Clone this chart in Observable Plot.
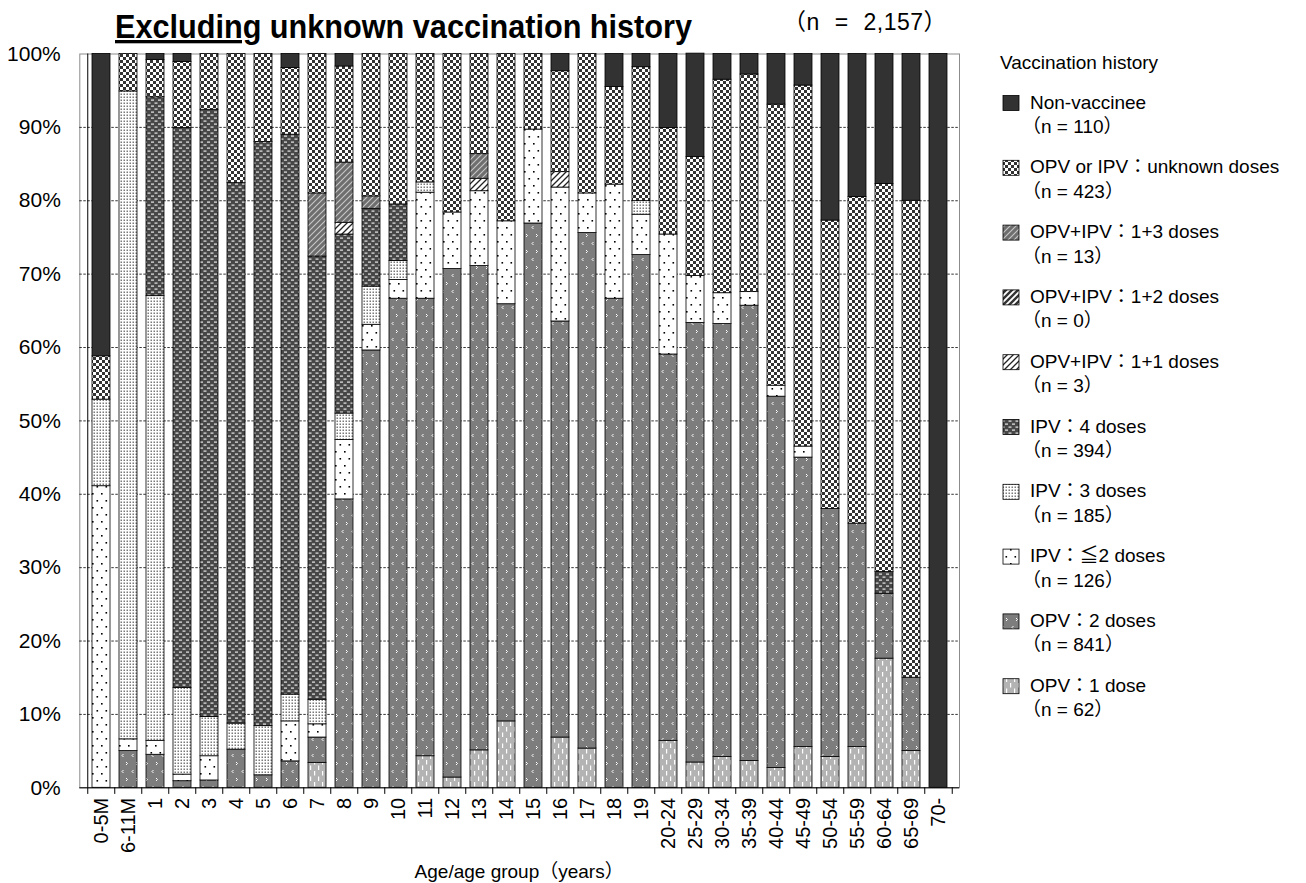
<!DOCTYPE html>
<html><head><meta charset="utf-8">
<script src="https://cdn.jsdelivr.net/npm/d3@7"></script>
<script src="https://cdn.jsdelivr.net/npm/@observablehq/plot@0.6"></script>
<style>body{margin:0;background:#fff;}</style>
</head><body><div id="chart"></div>
<script>
// ---- data (percent of each age group) ----
const categories = ["0-5M","6-11M","1","2","3","4","5","6","7","8","9","10","11","12","13","14","15","16","17","18","19","20-24","25-29","30-34","35-39","40-44","45-49","50-54","55-59","60-64","65-69","70-"];
const opv1   = [0,0,0,0,0,0,0,0,3.4,0,0,0,4.3,1.4,5.1,9.05,0,6.85,5.35,0,0,6.4,3.45,4.2,3.65,2.7,5.55,4.2,5.55,17.6,5.0,0];
const opv2   = [0,5.0,4.5,0.9,1.0,5.2,1.7,3.6,3.45,39.3,59.6,66.65,62.35,69.3,66.0,56.85,76.9,56.7,70.25,66.65,72.6,52.65,59.9,59.0,62.05,50.6,39.45,33.8,30.45,8.85,10.0,0];
const ipvLe2 = [41.1,1.6,1.9,0.9,3.3,0,0,5.45,1.8,8.1,3.5,2.55,14.45,7.7,10.2,11.3,12.8,18.25,5.4,15.55,5.5,16.35,6.4,4.2,1.85,1.5,1.5,0,0,0,0,0];
const ipv3   = [11.8,88.3,60.6,11.8,5.35,3.55,6.7,3.65,3.35,3.6,5.2,2.6,1.4,0,0,0,0,0,0,0,1.85,0,0,0,0,0,0,0,0,0,0,0];
const ipv4   = [0,0,27.1,76.3,82.75,73.65,79.6,76.3,60.4,24.4,10.6,7.7,0,0,0,0,0,0,0,0,0,0,0,0,0,0,0,0,0,2.95,0,0];
const mix11  = [0,0,0,0,0,0,0,0,0,1.6,0,0,0,0,1.7,0,0,2.1,0,0,0,0,0,0,0,0,0,0,0,0,0,0];
const mix12  = [0,0,0,0,0,0,0,0,0,0,0,0,0,0,0,0,0,0,0,0,0,0,0,0,0,0,0,0,0,0,0,0];
const mix13  = [0,0,0,0,0,0,0,0,8.6,8.2,1.7,0,0,0,3.35,0,0,0,0,0,0,0,0,0,0,0,0,0,0,0,0,0];
const unknownDoses = [5.9,5.1,5.1,9.0,7.6,17.6,12.0,9.1,19.0,13.1,19.4,20.5,17.5,21.6,13.65,22.8,10.3,13.75,19.0,13.3,18.25,14.5,16.2,29.1,29.65,38.3,49.2,39.3,44.5,52.9,65.0,0];
const nonVaccinee  = [41.2,0,0.8,1.1,0,0,0,1.9,0,1.7,0,0,0,0,0,0,0,2.35,0,4.5,1.8,10.1,14.1,3.5,2.8,6.9,4.3,22.7,19.5,17.7,20.0,100];

// series (bottom to top)
const seriesKeys   = ["opv1","opv2","ipvLe2","ipv3","ipv4","mix11","mix12","mix13","unknown","non"];
const seriesValues = [opv1, opv2, ipvLe2, ipv3, ipv4, mix11, mix12, mix13, unknownDoses, nonVaccinee];
const legendLabels = ["OPV：1 dose","OPV：2 doses","IPV：≦2 doses","IPV：3 doses","IPV：4 doses","OPV+IPV：1+1 doses","OPV+IPV：1+2 doses","OPV+IPV：1+3 doses","OPV or IPV：unknown doses","Non-vaccinee"];
const legendN      = [62, 841, 126, 185, 394, 3, 0, 13, 423, 110];
const yTicks = [0,10,20,30,40,50,60,70,80,90,100];

const data = [];
seriesKeys.forEach((k, si) => {
  categories.forEach((c, ci) => {
    const v = seriesValues[si][ci];
    if (v > 0) data.push({age: c, series: k, value: v});
  });
});
const patternUrl = seriesKeys.map(k => `url(#pat-${k})`);

const W = 1306, H = 883;
const mL = 79.3, mR = W - 959, mT = 53.5, mB = H - 787.3;
const step = (W - mL - mR) / categories.length;

const plot = Plot.plot({
  width: W, height: H,
  marginLeft: mL, marginRight: mR, marginTop: mT, marginBottom: mB,
  style: {fontFamily: "'Liberation Sans', Arial, 'Noto Sans CJK JP', sans-serif", background: "#fff", color: "#000"},
  x: {type: "band", domain: categories, paddingInner: 1/3, paddingOuter: 1/6, label: null},
  y: {domain: [0, 100], label: null},
  color: {type: "ordinal", domain: seriesKeys, range: patternUrl},
  marks: [
    Plot.frame({stroke: "#8c8c8c", strokeWidth: 1}),
    Plot.ruleY(yTicks.filter(d => d > 0 && d < 100), {stroke: "#000", strokeWidth: 0.8, strokeDasharray: "2.5,1.5"}),
    Plot.barY(data, {x: "age", y: "value", fill: "series", order: seriesKeys, stroke: "#000", strokeWidth: 0.8}),
    Plot.ruleY([0], {stroke: "#000", strokeWidth: 1}),
    Plot.ruleX([categories[0]], {dx: -step / 2, y1: 0, y2: 100, stroke: "#000", strokeWidth: 1}),
    Plot.ruleX(categories, {x: d => d, dx: -step / 2, y1: 0, y2: -0.9, stroke: "#000", strokeWidth: 1}),
    Plot.ruleX([categories[categories.length - 1]], {dx: step / 2, y1: 0, y2: -0.9, stroke: "#000", strokeWidth: 1}),
    Plot.axisY({ticks: yTicks, tickFormat: d => d + "%", tickSize: 0, tickPadding: 19, fontSize: 21, label: null}),
    Plot.axisX({tickRotate: -90, tickSize: 0, tickPadding: 10, fontSize: 20, label: null})
  ]
});

const svg = d3.select(plot);
// patterns
const defs = svg.insert("defs", ":first-child");
function pat(id, w, h, bg) {
  const p = defs.append("pattern").attr("id", "pat-" + id).attr("patternUnits", "userSpaceOnUse").attr("width", w).attr("height", h);
  p.append("rect").attr("width", w).attr("height", h).attr("fill", bg);
  return p;
}
pat("non", 4, 4, "#323232");
{ const p = pat("unknown", 6, 6, "#ffffff");
  p.append("rect").attr("x", 0).attr("y", 0).attr("width", 3).attr("height", 3).attr("fill", "#333");
  p.append("rect").attr("x", 3).attr("y", 3).attr("width", 3).attr("height", 3).attr("fill", "#333"); }
function diag(id, bg, col, sw) {
  const p = pat(id, 6, 6, bg);
  p.append("path").attr("d", "M0,6 L6,0 M-1,1 L1,-1 M5,7 L7,5").attr("stroke", col).attr("stroke-width", sw);
}
diag("mix13", "#6e6e6e", "#c8c8c8", 1.1);
diag("mix12", "#ffffff", "#333333", 2.4);
diag("mix11", "#ffffff", "#222222", 1.3);
{ const p = pat("ipv4", 7, 6, "#474747");
  p.append("rect").attr("x", 0.5).attr("y", 0.5).attr("width", 3).attr("height", 1.2).attr("fill", "#e8e8e8");
  p.append("rect").attr("x", 4).attr("y", 3.5).attr("width", 3).attr("height", 1.2).attr("fill", "#e8e8e8"); }
{ const p = pat("ipv3", 3, 3, "#ffffff");
  p.append("rect").attr("x", 0.5).attr("y", 0.5).attr("width", 1.5).attr("height", 1.5).attr("fill", "#7a7a7a"); }
{ const p = pat("ipvLe2", 9, 14, "#ffffff");
  p.append("rect").attr("x", 2).attr("y", 3).attr("width", 1.6).attr("height", 1.6).attr("fill", "#000");
  p.append("rect").attr("x", 6.5).attr("y", 10).attr("width", 1.6).attr("height", 1.6).attr("fill", "#000"); }
{ const p = pat("opv2", 10, 16, "#7d7d7d");
  p.append("path").attr("d", "M3.5,2 L2,3.5 L3.5,5").attr("stroke", "#fff").attr("stroke-width", 1).attr("fill", "none");
  p.append("path").attr("d", "M6,10 L7.5,11.5 L6,13").attr("stroke", "#fff").attr("stroke-width", 1).attr("fill", "none"); }
{ const p = pat("opv1", 8, 11, "#b3b3b3");
  p.append("rect").attr("x", 2).attr("y", 1).attr("width", 1.2).attr("height", 4.5).attr("fill", "#fff");
  p.append("rect").attr("x", 6).attr("y", 6.5).attr("width", 1.2).attr("height", 4.5).attr("fill", "#fff"); }

const font = "'Liberation Sans', Arial, 'Noto Sans CJK JP', sans-serif";
function txt(x, y, size, anchor) {
  return svg.append("text").attr("x", x).attr("y", y).attr("font-family", font).attr("font-size", size)
    .attr("text-anchor", anchor || "start").attr("fill", "#000");
}
// title
const title = txt(115, 38, 33).attr("font-weight", "bold").attr("textLength", 577).attr("lengthAdjust", "spacingAndGlyphs");
title.append("tspan").attr("text-decoration", "underline").text("Excluding");
title.append("tspan").text(" unknown vaccination history");
txt(783, 30, 23).attr("letter-spacing", 0.5).attr("word-spacing", 8).text("（n = 2,157）");
// x axis title
txt((mL + W - mR) / 2, 878, 19, "middle").text("Age/age group（years）");
// legend
txt(1000, 69, 19).text("Vaccination history");
const order = seriesKeys.map((k, i) => i).reverse();
order.forEach((si, j) => {
  const base = 108.5 + j * 64.8;
  svg.append("rect").attr("x", 1003).attr("y", base - 13).attr("width", 16).attr("height", 15)
    .attr("fill", patternUrl[si]).attr("stroke", "#000").attr("stroke-width", 0.8);
  txt(1030, base, 19).text(legendLabels[si]);
  txt(1022, base + 24.5, 19).text(`（n = ${legendN[si]}）`);
});

document.getElementById("chart").appendChild(plot);
</script>
</body></html>
